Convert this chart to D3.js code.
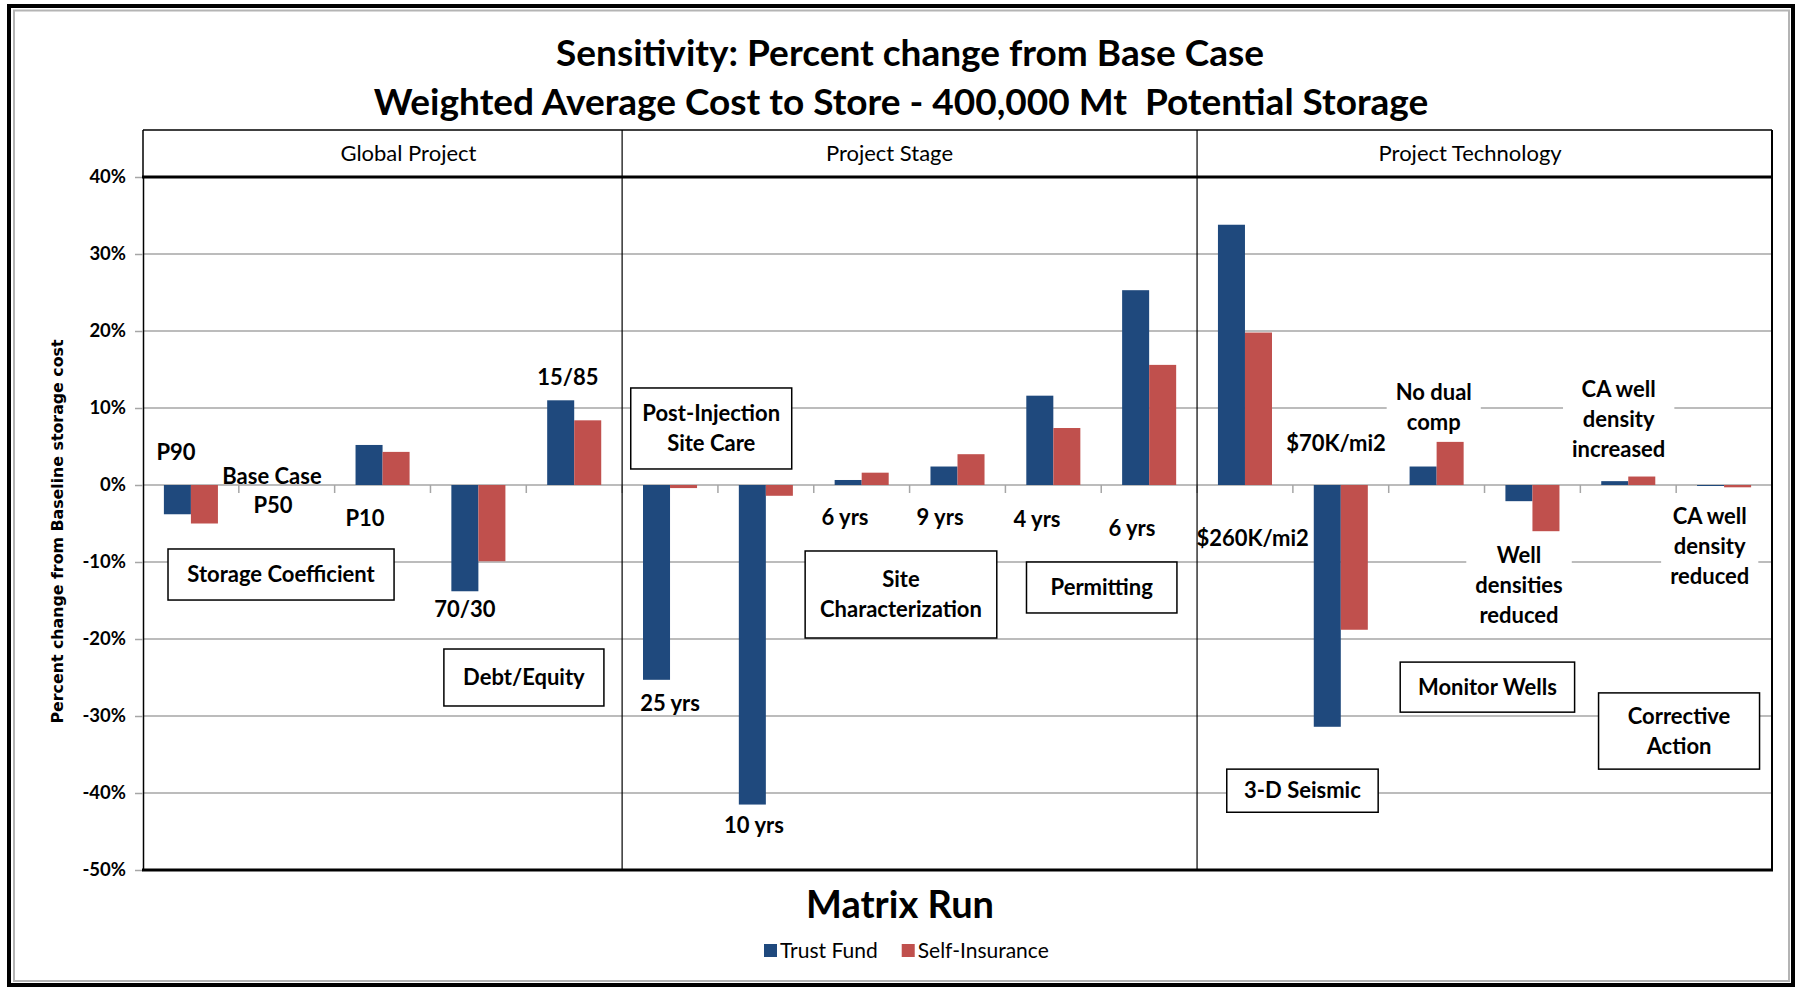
<!DOCTYPE html>
<html>
<head>
<meta charset="utf-8">
<script src="https://cdn.jsdelivr.net/npm/d3@7"></script>
<style>
  body { margin: 0; background: #fff; }
  svg { display: block; font-family: Lato, "Open Sans", sans-serif; }
</style>
</head>
<body>
<div id="chart"></div>
<script>
// ---- data (percent change from base case) ----
const categories = [
  "P90", "P50", "P10", "70/30", "15/85",
  "25 yrs", "10 yrs", "6 yrs", "9 yrs", "4 yrs", "6 yrs",
  "$260K/mi2", "$70K/mi2", "No dual comp", "Well densities reduced",
  "CA well density increased", "CA well density reduced"
];
const trustFund = [-3.8, 0, 5.2, -13.8, 11.0, -25.3, -41.5, 0.65, 2.4, 11.6, 25.3, 33.8, -31.4, 2.4, -2.1, 0.5, -0.1];
const selfInsurance = [-5.0, 0, 4.3, -9.9, 8.4, -0.4, -1.4, 1.6, 4.0, 7.4, 15.6, 19.8, -18.8, 5.6, -6.0, 1.1, -0.3];
const series = ["Trust Fund", "Self-Insurance"];
const groupNames = ["Global Project", "Project Stage", "Project Technology"];
const groupSizes = [5, 6, 6];
const yTicks = [40, 30, 20, 10, 0, -10, -20, -30, -40, -50];

// ---- annotations, anchored in category units (u) and percent (v) ----
const plainNotes = [
  { lines: ["P90"], u: 0.344, v: 4.29 },
  { lines: ["Base Case"], u: 1.346, v: 1.17 },
  { lines: ["P50"], u: 1.357, v: -2.6 },
  { lines: ["P10"], u: 2.317, v: -4.29 },
  { lines: ["15/85"], u: 4.435, v: 14.03 },
  { lines: ["70/30"], u: 3.36, v: -16.1 },
  { lines: ["25 yrs"], u: 5.5, v: -28.3 },
  { lines: ["10 yrs"], u: 6.376, v: -44.2 },
  { lines: ["6 yrs"], u: 7.326, v: -4.16 },
  { lines: ["9 yrs"], u: 8.318, v: -4.16 },
  { lines: ["4 yrs"], u: 9.33, v: -4.4 },
  { lines: ["6 yrs"], u: 10.32, v: -5.6 },
  { lines: ["$260K/mi2"], u: 11.58, v: -6.9 },
  { lines: ["$70K/mi2"], u: 12.45, v: 5.45 },
  { lines: ["No dual", "comp"], u: 13.47, v: 10.06, bg: true },
  { lines: ["Well", "densities", "reduced"], u: 14.36, v: -13.05, bg: true },
  { lines: ["CA well", "density", "increased"], u: 15.4, v: 8.57, bg: true },
  { lines: ["CA well", "density", "reduced"], u: 16.35, v: -7.9, bg: true }
];
const boxNotes = [
  { lines: ["Storage Coefficient"], u1: 0.261, u2: 2.62, v1: -8.31, v2: -14.94 },
  { lines: ["Debt/Equity"], u1: 3.14, u2: 4.81, v1: -21.3, v2: -28.7 },
  { lines: ["Post-Injection", "Site Care"], u1: 5.09, u2: 6.77, v1: 12.6, v2: 2.08 },
  { lines: ["Site", "Characterization"], u1: 6.91, u2: 8.91, v1: -8.57, v2: -19.87 },
  { lines: ["Permitting"], u1: 9.22, u2: 10.79, v1: -10.0, v2: -16.62 },
  { lines: ["Monitor Wells"], u1: 13.12, u2: 14.94, v1: -23.0, v2: -29.5 },
  { lines: ["Corrective", "Action"], u1: 15.19, u2: 16.87, v1: -27.0, v2: -36.9 },
  { lines: ["3-D Seismic"], u1: 11.31, u2: 12.89, v1: -36.9, v2: -42.5 }
];
const groupLabelAt = [2.77, 7.79, 13.85];

const width = 1795, height = 987;
const plot = { left: 143, right: 1772, top: 177, bottom: 870 };
const headerTop = 130;
const color = d3.scaleOrdinal().domain(series).range(["#1f497d", "#c0504d"]);
const lineGap = 30;

const svg = d3.select("#chart").append("svg")
  .attr("width", width)
  .attr("height", height);

// frame
svg.append("rect")
  .attr("x", 9).attr("y", 6).attr("width", 1784).attr("height", 979)
  .attr("fill", "#fff").attr("stroke", "#000").attr("stroke-width", 4);
svg.append("rect")
  .attr("x", 14).attr("y", 10.5).attr("width", 1775).attr("height", 970.5)
  .attr("fill", "none").attr("stroke", "#b4b4b4").attr("stroke-width", 2);

const x = d3.scaleBand()
  .domain(d3.range(categories.length))
  .range([plot.left, plot.right])
  .padding(0);

const xs = d3.scaleBand()
  .domain(series)
  .range([x.bandwidth() * 0.218, x.bandwidth() * 0.782]);

const xu = d3.scaleLinear()
  .domain([0, categories.length])
  .range([plot.left, plot.right]);

const y = d3.scaleLinear()
  .domain([-50, 40])
  .range([plot.bottom, plot.top]);

// gridlines
svg.append("g")
  .selectAll("line")
  .data(yTicks.filter(d => d !== 40 && d !== -50))
  .enter()
  .append("line")
  .attr("x1", plot.left).attr("x2", plot.right)
  .attr("y1", d => y(d)).attr("y2", d => y(d))
  .attr("stroke", "#a6a6a6")
  .attr("stroke-width", 1.5);

// category ticks on the zero line
svg.append("g")
  .selectAll("line")
  .data(d3.range(1, categories.length))
  .enter()
  .append("line")
  .attr("x1", d => x(d)).attr("x2", d => x(d))
  .attr("y1", y(0)).attr("y2", y(0) + 8)
  .attr("stroke", "#a6a6a6")
  .attr("stroke-width", 1.5);

// bars
const barData = [];
categories.forEach((c, i) => {
  barData.push({ i, s: series[0], value: trustFund[i] });
  barData.push({ i, s: series[1], value: selfInsurance[i] });
});

svg.append("g")
  .selectAll("rect")
  .data(barData.filter(d => d.value !== 0))
  .enter()
  .append("rect")
  .attr("x", d => x(d.i) + xs(d.s))
  .attr("y", d => y(Math.max(0, d.value)))
  .attr("width", xs.bandwidth())
  .attr("height", d => Math.max(1, Math.abs(y(d.value) - y(0))))
  .attr("fill", d => color(d.s));

// y axis
const yAxis = svg.append("g")
  .attr("transform", `translate(${plot.left},0)`)
  .call(d3.axisLeft(y).tickValues(yTicks).tickFormat(d => d + "%").tickSize(8).tickPadding(9).tickSizeOuter(0))
  .attr("font-family", null)
  .attr("font-size", null);

yAxis.select(".domain").attr("stroke", "#000").attr("stroke-width", 1.5);
yAxis.selectAll(".tick line").attr("stroke", "#a6a6a6").attr("stroke-width", 1.5);
yAxis.selectAll(".tick text")
  .attr("fill", "#000")
  .style("font-size", "18.5px")
  .style("font-weight", "bold");

// header band and plot border
const frame = svg.append("g").attr("fill", "none").attr("stroke", "#000");
frame.append("line")
  .attr("x1", plot.left).attr("x2", plot.right)
  .attr("y1", headerTop).attr("y2", headerTop)
  .attr("stroke-width", 1.5);
frame.append("line")
  .attr("x1", plot.left).attr("x2", plot.left)
  .attr("y1", headerTop).attr("y2", plot.top)
  .attr("stroke-width", 1.5);
frame.append("line")
  .attr("x1", plot.right).attr("x2", plot.right)
  .attr("y1", headerTop).attr("y2", plot.bottom)
  .attr("stroke-width", 2);
frame.append("line")
  .attr("x1", plot.left - 1).attr("x2", plot.right + 1)
  .attr("y1", y(40)).attr("y2", y(40))
  .attr("stroke-width", 3);
frame.append("line")
  .attr("x1", plot.left - 1).attr("x2", plot.right + 1)
  .attr("y1", y(-50)).attr("y2", y(-50))
  .attr("stroke-width", 3);

const groupEnds = d3.cumsum(groupSizes).slice(0, -1);
frame.selectAll(".sep")
  .data(groupEnds)
  .enter()
  .append("line")
  .attr("class", "sep")
  .attr("x1", d => xu(d)).attr("x2", d => xu(d))
  .attr("y1", headerTop).attr("y2", plot.bottom)
  .attr("stroke-width", 1.2);

svg.append("g")
  .selectAll("text")
  .data(groupNames)
  .enter()
  .append("text")
  .attr("x", (d, i) => xu(groupLabelAt[i]))
  .attr("y", 161)
  .attr("text-anchor", "middle")
  .style("font-size", "22px")
  .text(d => d);

// annotations
function addLines(g, lines, cx, cy) {
  const top = cy - (lines.length - 1) * lineGap / 2;
  lines.forEach((t, k) => {
    g.append("text")
      .attr("x", cx)
      .attr("y", top + k * lineGap)
      .attr("dy", "0.35em")
      .attr("text-anchor", "middle")
      .style("font-size", "22px")
      .style("font-weight", "bold")
      .text(t);
  });
}

const notesLayer = svg.append("g");

boxNotes.forEach(n => {
  const g = notesLayer.append("g");
  g.append("rect")
    .attr("x", xu(n.u1)).attr("y", y(n.v1))
    .attr("width", xu(n.u2) - xu(n.u1))
    .attr("height", y(n.v2) - y(n.v1))
    .attr("fill", "#fff")
    .attr("stroke", "#000")
    .attr("stroke-width", 1.5);
  addLines(g, n.lines, (xu(n.u1) + xu(n.u2)) / 2, (y(n.v1) + y(n.v2)) / 2);
});

plainNotes.forEach(n => {
  const g = notesLayer.append("g");
  const bg = n.bg ? g.append("rect").attr("fill", "#fff") : null;
  addLines(g, n.lines, xu(n.u), y(n.v));
  if (bg) {
    const box = g.node().getBBox();
    bg.attr("x", box.x - 9).attr("y", box.y - 2)
      .attr("width", box.width + 18).attr("height", box.height + 4);
  }
});

// titles
const titles = [
  { text: "Sensitivity: Percent change from Base Case", cx: 910, base: 66 },
  { text: "Weighted Average Cost to Store - 400,000 Mt  Potential Storage", cx: 901, base: 115 }
];
svg.append("g")
  .selectAll("text")
  .data(titles)
  .enter()
  .append("text")
  .attr("x", d => d.cx)
  .attr("y", d => d.base)
  .attr("text-anchor", "middle")
  .style("font-size", "37px")
  .style("font-weight", "bold")
  .style("white-space", "pre")
  .text(d => d.text);

svg.append("text")
  .attr("x", 900)
  .attr("y", 918)
  .attr("text-anchor", "middle")
  .style("font-size", "38px")
  .style("font-weight", "bold")
  .text("Matrix Run");

svg.append("text")
  .attr("transform", `translate(57,${(plot.top + plot.bottom) / 2 + 8}) rotate(-90)`)
  .attr("text-anchor", "middle")
  .attr("dy", "0.35em")
  .style("font-family", "'DejaVu Sans', Verdana, sans-serif")
  .style("font-size", "15.8px")
  .style("font-weight", "bold")
  .text("Percent change from Baseline storage cost");

// legend
const legend = svg.append("g").attr("transform", "translate(764,944)");
let lx = 0;
series.forEach(s => {
  legend.append("rect")
    .attr("x", lx).attr("y", 0)
    .attr("width", 13).attr("height", 13)
    .attr("fill", color(s));
  const t = legend.append("text")
    .attr("x", lx + 16)
    .attr("y", 14)
    .style("font-size", "21px")
    .text(s);
  lx += 16 + t.node().getComputedTextLength() + 24;
});
</script>
</body>
</html>
